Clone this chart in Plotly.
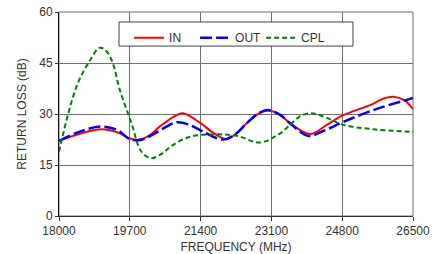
import plotly.graph_objects as go

freq_in = [18000, 18500, 19020, 19400, 19700, 19940, 20180, 20420, 20780, 20980, 21400, 21700,
           22020, 22250, 22500, 22750, 23020, 23300, 23550, 24030, 24430, 24800, 25470, 25800,
           26030, 26300, 26500]
in_vals = [22.1, 24.2, 25.5, 24.6, 22.8, 22.5, 23.8, 26.3, 29.4, 30.2, 27.3, 24.5,
           22.6, 24.2, 27.2, 29.8, 31.0, 29.8, 27.3, 24.1, 26.8, 29.5, 32.6, 34.6,
           35.1, 34.0, 31.4]

freq_out = [18000, 18500, 19000, 19400, 19700, 19980, 20300, 20740, 20860, 21140, 21460, 21940,
            22250, 22500, 22750, 22990, 23300, 23545, 23790, 23990, 24400, 24830, 25630, 26390,
            26500]
out_vals = [22.1, 24.8, 26.3, 25.3, 22.6, 22.4, 24.3, 27.3, 27.6, 26.8, 24.8, 22.5,
            24.2, 27.2, 29.8, 31.2, 29.8, 27.3, 24.8, 23.5, 25.3, 27.7, 31.5, 34.3,
            34.7]

freq_cpl = [18000, 18220, 18450, 18720, 18980, 19150, 19290, 19460, 19740, 19980, 20220, 20500,
            20700, 21140, 21700, 22270, 22820, 23310, 23545, 23800, 24060, 24400, 24830, 25550,
            26430, 26500]
cpl_vals = [18.9, 30.0, 39.0, 45.3, 49.5, 48.3, 45.0, 37.1, 27.3, 18.9, 17.0, 18.6,
            20.6, 23.3, 24.0, 23.6, 21.6, 24.3, 26.8, 29.4, 30.2, 29.0, 26.8, 25.5,
            24.8, 24.8]

x_ticks = [18000, 19700, 21400, 23100, 24800, 26500]
y_ticks = [0, 15, 30, 45, 60]

FONT = "Liberation Sans, Arial, sans-serif"

fig = go.Figure()
fig.add_trace(go.Scatter(x=freq_in, y=in_vals, name="IN", mode="lines",
                         line=dict(color="#FF0000", width=2, shape="spline", smoothing=1.0)))
fig.add_trace(go.Scatter(x=freq_out, y=out_vals, name="OUT", mode="lines",
                         line=dict(color="#0000FF", width=2.5, shape="spline", smoothing=1.0,
                                   dash="12px,4px")))
fig.add_trace(go.Scatter(x=freq_cpl, y=cpl_vals, name="CPL", mode="lines",
                         line=dict(color="#008000", width=2, shape="spline", smoothing=1.0,
                                   dash="5px,3px")))

# plot frame (grey, under the grid) and legend frame
fig.add_shape(type="rect", xref="paper", yref="paper", x0=0, x1=1, y0=0, y1=1,
              line=dict(color="#6e6e6e", width=1), fillcolor="rgba(0,0,0,0)", layer="below")
fig.add_shape(type="rect", xref="paper", yref="paper", x0=0.1695, x1=0.8305, y0=0.833, y1=0.951,
              line=dict(color="#444444", width=1), fillcolor="white", layer="above")

fig.update_layout(
    width=445, height=254,
    margin=dict(l=59, r=32, t=12, b=38, autoexpand=False),
    paper_bgcolor="white", plot_bgcolor="white",
    font=dict(family=FONT, size=12, color="#333333"),
    showlegend=True,
    legend=dict(orientation="h", x=0.198, y=0.945, xanchor="left", yanchor="top",
                bgcolor="rgba(0,0,0,0)", borderwidth=0,
                font=dict(size=12, color="#333333"), itemwidth=30,
                entrywidth=21, entrywidthmode="pixels"),
)
fig.update_xaxes(range=[18000, 26500], tickvals=x_ticks, ticktext=[str(v) for v in x_ticks],
                 showgrid=True, gridcolor="#6e6e6e", gridwidth=1,
                 showline=True, linecolor="#333333", linewidth=1,
                 ticks="outside", ticklen=4, tickcolor="#333333",
                 zeroline=False, automargin=False,
                 title=dict(text="FREQUENCY (MHz)", standoff=17, font=dict(size=12)))
fig.update_yaxes(range=[0, 60], tickvals=y_ticks,
                 showgrid=True, gridcolor="#6e6e6e", gridwidth=1,
                 showline=True, linecolor="#111111", linewidth=1,
                 ticks="outside", ticklen=3, tickcolor="#333333",
                 zeroline=False, automargin=False,
                 title=dict(text="RETURN LOSS (dB)", standoff=10, font=dict(size=12)))

fig.write_html("out.html", config={"displayModeBar": False},
               post_script="document.body.style.margin='0px';")
